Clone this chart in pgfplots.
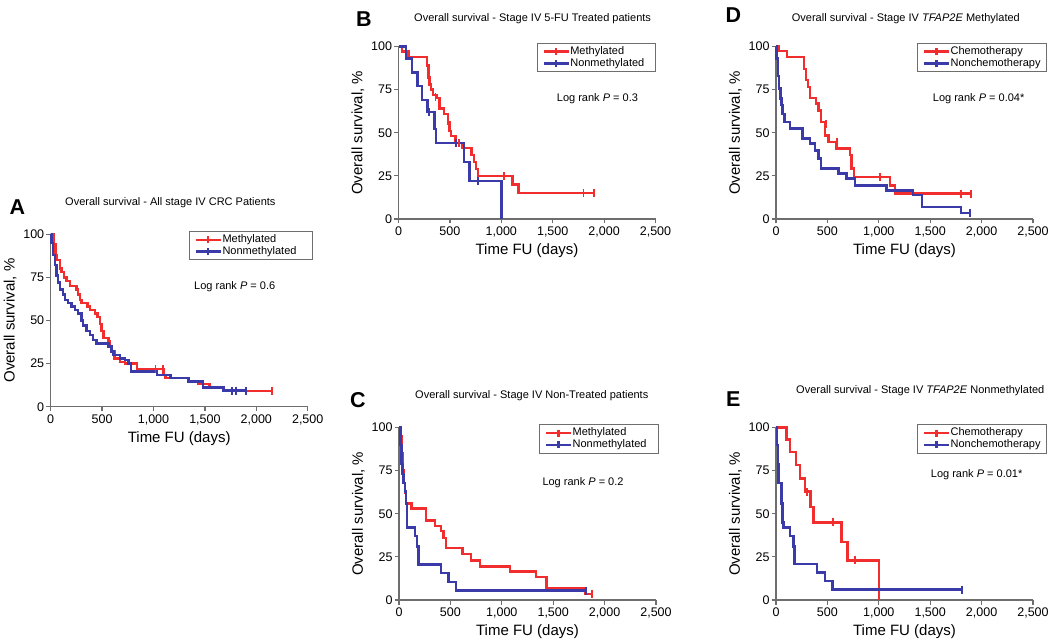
\documentclass[border=0pt]{standalone}
\usepackage{fontspec}
\setmainfont{Liberation Sans}
\usepackage{pgfplots}
\pgfplotsset{compat=1.18}

\definecolor{kmred}{RGB}{242,45,45}
\definecolor{kmblue}{RGB}{58,58,168}
\definecolor{axgray}{RGB}{110,110,110}

\pgfplotsset{
 kmaxis/.style={
   scale only axis, width=257pt, height=172.5pt,
   xmin=0,xmax=2500,ymin=0,ymax=100,
   enlargelimits=false,
   axis lines=left, axis line style={-, draw=axgray, line width=1.2pt},
   xtick={0,500,1000,1500,2000,2500}, ytick={0,25,50,75,100},
   tick align=outside, major tick length=4.5pt,
   tick style={draw=axgray, line width=1.2pt},
   /pgf/number format/1000 sep={,},
   /pgf/number format/assume math mode=true,
   ticklabel style={font=\fontsize{12.5pt}{14pt}\selectfont},
   yticklabel style={xshift=1.5pt},
   xlabel={Time FU (days)}, ylabel={Overall survival, \%},
   label style={font=\fontsize{15pt}{17pt}\selectfont},
   xlabel style={at={(axis description cs:0.5,-0.185)}, anchor=center},
   ylabel style={at={(axis description cs:-0.158,0.5)}, anchor=center},
   clip=false,
   legend cell align=left,
   legend image code/.code={\draw[##1] (0pt,0pt) -- (25pt,0pt); \draw[##1] (12.5pt,-3.5pt) -- (12.5pt,3.5pt);},
   legend style={draw=axgray, line width=1.1pt, font=\fontsize{11pt}{13pt}\selectfont, anchor=north west, inner xsep=5pt, inner ysep=2.5pt, row sep=0pt, nodes={inner sep=0.6pt, text height=8pt, text depth=2.5pt}},
 },
 redline/.style={kmred, line width=2.4pt, const plot, mark=none, forget plot},
 blueline/.style={kmblue, line width=2.4pt, const plot, mark=none, forget plot},
 redcens/.style={kmred, only marks, mark=|, mark size=4pt, mark options={line width=1.8pt}, forget plot},
 bluecens/.style={kmblue, only marks, mark=|, mark size=4pt, mark options={line width=1.8pt}, forget plot},
}
\newcommand{\titlefont}{\fontsize{11pt}{13pt}\selectfont}
\newcommand{\lrfont}{\fontsize{11pt}{13pt}\selectfont}
\newcommand{\letfont}{\fontsize{21.5pt}{24pt}\selectfont\bfseries}

\begin{document}
\begin{tikzpicture}
\path[use as bounding box] (0pt,0pt) rectangle (1050pt,-644pt);

% ---------------- A ----------------
\begin{axis}[kmaxis, at={(50.7pt,-406.7pt)}, anchor=south west,
  legend style={at={(axis description cs:0.538,1.0186)}}]
\addplot[redline] coordinates {(0,100)(33,94)(45,88)(55,85)(88,80)(104,78)(130,75)(153,73)(186,70)(251,68)(267,65)(284,62)(300,60)(359,58)(381,56)(430,54)(456,52)(479,48)(496,44)(512,40)(561,38)(577,35)(593,32)(619,28)(675,26)(724,25)(838,22)(1099,18.5)(1115,16.5)(1340,14.5)(1438,13)(1545,11)(1682,9)(2150,9)};
\addplot[blueline] coordinates {(0,100)(7,95)(23,88)(39,82)(55,76)(72,72)(88,68)(121,65)(137,62)(170,60)(202,58)(235,56)(267,54)(300,50)(316,47)(349,44)(381,41.5)(414,38.7)(447,36.7)(561,34.8)(593,32)(610,30)(675,28)(724,27)(756,25)(782,20.4)(1033,18.5)(1164,16.5)(1340,14.5)(1480,11.2)(1682,9.3)(1900,9.3)};
\addplot[redcens] coordinates {(1020,22)(1092,22)(2150,9)};
\addplot[bluecens] coordinates {(1765,9.3)(1800,9.3)(1900,9.3)};
\addlegendimage{kmred, line width=2.4pt}
\addlegendentry{Methylated}
\addlegendimage{kmblue, line width=2.4pt}
\addlegendentry{Nonmethylated\kern10pt}
\end{axis}

% ---------------- B ----------------
\begin{axis}[kmaxis, at={(398.5pt,-219pt)}, anchor=south west,
  legend style={at={(axis description cs:0.538,1.022)}}]
\addplot[redline] coordinates {(0,100)(36,97)(98,94)(277,89)(292,82)(302,78)(315,75)(335,72)(370,70)(400,64)(440,61)(480,56)(495,51)(510,48)(555,44)(615,41)(710,37)(736,33)(755,29)(775,25)(1110,20)(1166,15)(1900,15)};
\addplot[blueline] coordinates {(0,100)(72,93)(130,85)(186,77)(228,69)(284,62)(349,52)(365,44)(635,33)(690,22)(1000,0)};
\addplot[redcens] coordinates {(360,71)(485,57)(590,44)(1030,25)(1800,15)(1900,15)};
\addplot[bluecens] coordinates {(293,62)(560,44)(775,22)};
\addlegendimage{kmred, line width=2.4pt}
\addlegendentry{Methylated}
\addlegendimage{kmblue, line width=2.4pt}
\addlegendentry{Nonmethylated\kern6pt}
\end{axis}

% ---------------- C ----------------
\begin{axis}[kmaxis, at={(399pt,-600pt)}, anchor=south west,
  legend style={at={(axis description cs:0.545,1.0186)}}]
\addplot[redline] coordinates {(0,100)(20,95)(30,85)(40,75)(50,68)(60,62)(70,56)(123,53)(262,46)(350,43)(408,40)(431,36)(457,30)(619,26.5)(700,23)(787,19.5)(1079,16.5)(1332,13.5)(1436,7)(1810,3.5)(1880,3.5)};
\addplot[blueline] coordinates {(0,100)(15,90)(25,79)(35,73)(45,68)(60,63)(70,56)(75,42)(155,37)(177,31)(188,20.5)(408,15.5)(481,10.5)(556,5.5)(1820,5.5)};
\addplot[redcens] coordinates {(1880,3.5)};
\addplot[bluecens] coordinates {(1820,5.5)};
\addlegendimage{kmred, line width=2.4pt}
\addlegendentry{Methylated}
\addlegendimage{kmblue, line width=2.4pt}
\addlegendentry{Nonmethylated\kern6pt}
\end{axis}

% ---------------- D ----------------
\begin{axis}[kmaxis, at={(776pt,-219pt)}, anchor=south west,
  legend style={at={(axis description cs:0.549,1.022)}}]
\addplot[redline] coordinates {(0,100)(26,97.3)(106,94)(274,87)(290,80.5)(310,76.6)(332,70)(387,67)(413,63)(439,56.3)(477,48.5)(510,44.7)(590,40.8)(719,37)(735,29.2)(761,24.4)(1106,19.5)(1155,14.7)(1900,14.7)};
\addplot[blueline] coordinates {(0,100)(6,93)(19,83)(32,75.6)(42,69.8)(52,66)(64,61)(81,56.3)(139,52.4)(258,46.6)(332,43.7)(381,39.8)(413,35)(439,29.2)(606,26.3)(687,23.4)(768,19.5)(1074,16.6)(1332,14)(1420,7)(1800,3.5)(1890,3.5)};
\addplot[redcens] coordinates {(487,55)(597,44.7)(1010,24.4)(1800,14.7)(1900,14.7)};
\addplot[bluecens] coordinates {(1890,3.5)};
\addlegendimage{kmred, line width=2.4pt}
\addlegendentry{Chemotherapy}
\addlegendimage{kmblue, line width=2.4pt}
\addlegendentry{Nonchemotherapy}
\end{axis}

% ---------------- E ----------------
\begin{axis}[kmaxis, at={(776pt,-600pt)}, anchor=south west,
  legend style={at={(axis description cs:0.549,1.0186)}}]
\addplot[redline] coordinates {(0,100)(104,93)(136,85.7)(194,78.2)(233,70.5)(282,62.8)(337,54)(363,45)(638,33.7)(697,23)(1000,0)};
\addplot[blueline] coordinates {(0,100)(8,90)(18,79)(26,68)(52,56)(64,45)(74,42)(139,37)(171,31)(180,21)(397,16)(477,11)(548,6)(1811,6)};
\addplot[redcens] coordinates {(298,62.8)(557,45)(768,23)};
\addplot[bluecens] coordinates {(1811,6)};
\addlegendimage{kmred, line width=2.4pt}
\addlegendentry{Chemotherapy}
\addlegendimage{kmblue, line width=2.4pt}
\addlegendentry{Nonchemotherapy}
\end{axis}

% titles
\node[anchor=west, inner sep=0pt, font=\titlefont] at (65pt,-203pt) {Overall survival - All stage IV CRC Patients};
\node[anchor=west, inner sep=0pt, font=\titlefont] at (414pt,-18.3pt) {Overall survival - Stage IV 5-FU Treated patients};
\node[anchor=west, inner sep=0pt, font=\titlefont] at (415pt,-395.3pt) {Overall survival - Stage IV Non-Treated patients};
\node[anchor=west, inner sep=0pt, font=\titlefont] at (791.7pt,-19pt) {Overall survival - Stage IV \textit{TFAP2E} Methylated};
\node[anchor=west, inner sep=0pt, font=\titlefont] at (796pt,-390.7pt) {Overall survival - Stage IV \textit{TFAP2E} Nonmethylated};
% log rank
\node[anchor=west, inner sep=0pt, font=\lrfont] at (194pt,-286.7pt) {Log rank \textit{P} = 0.6};
\node[anchor=west, inner sep=0pt, font=\lrfont] at (556.7pt,-98.3pt) {Log rank \textit{P} = 0.3};
\node[anchor=west, inner sep=0pt, font=\lrfont] at (542.3pt,-482.3pt) {Log rank \textit{P} = 0.2};
\node[anchor=west, inner sep=0pt, font=\lrfont] at (932.7pt,-99pt) {Log rank \textit{P} = 0.04*};
\node[anchor=west, inner sep=0pt, font=\lrfont] at (930.7pt,-474.3pt) {Log rank \textit{P} = 0.01*};
% panel letters
\node[anchor=west, inner sep=0pt, font=\letfont] at (9.3pt,-206.7pt) {A};
\node[anchor=west, inner sep=0pt, font=\letfont] at (356pt,-19.3pt) {B};
\node[anchor=west, inner sep=0pt, font=\letfont] at (350pt,-400pt) {C};
\node[anchor=west, inner sep=0pt, font=\letfont] at (725.3pt,-15.5pt) {D};
\node[anchor=west, inner sep=0pt, font=\letfont] at (726pt,-399.2pt) {E};
\end{tikzpicture}
\end{document}
